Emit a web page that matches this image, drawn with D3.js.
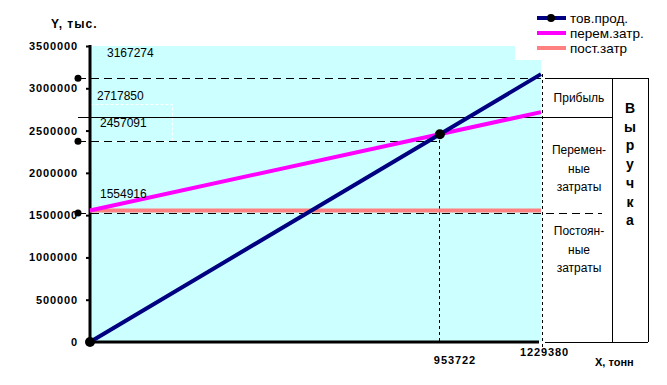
<!DOCTYPE html>
<html lang="ru">
<head>
<meta charset="UTF-8">
<script src="https://d3js.org/d3.v7.min.js"></script>
<title>Точка безубыточности</title>
<style>
  body { margin: 0; background: #fff; }
  text { font-family: "Liberation Sans", Arial, sans-serif; }
</style>
</head>
<body>
<script>
// values
let xValues = [0, 953722, 1229380];
let salesValues = [0, 2457091, 3167274];      // тов.прод.
let varCostX = [0, 1229380];
let varCostValues = [1554916, 2717850];       // перем.затр.
let fixedCostValues = [1554916, 1554916];     // пост.затр
let yTicks = [0, 500000, 1000000, 1500000, 2000000, 2500000, 3000000, 3500000];
let xTickLabels = ["953722", "1229380"];
let seriesNames = ["тов.прод.", "перем.затр.", "пост.затр"];
let valueLabels = ["3167274", "2717850", "2457091", "1554916"];
// guide lines as drawn (slightly off the exact values in the original)
let guideLevels = [3120000, 2660000, 2375000, 1525000];
let zoneLabels = [["Прибыль"], ["Перемен-", "ные", "затраты"], ["Постоян-", "ные", "затраты"]];
let revenueLabel = "Выручка";

let colors = ["#000080", "#ff00ff", "#ff8080"];

let svg = d3.select("body").append("svg")
    .attr("width", 667)
    .attr("height", 385);

let x = d3.scaleLinear().domain([0, 1229380]).range([90, 541]);
let y = d3.scaleLinear().domain([0, 3500000]).range([342, 46]);

// plot background
svg.append("rect")
    .attr("x", x(0)).attr("y", y(3500000))
    .attr("width", x(1229380) - x(0))
    .attr("height", y(0) - y(3500000))
    .attr("fill", "#ccffff");

// white dashed selection box around a label
svg.append("rect")
    .attr("x", 90.5).attr("y", 104.5)
    .attr("width", 82).attr("height", Math.round(y(guideLevels[2])) - 104)
    .attr("fill", "none")
    .attr("stroke", "#fff")
    .attr("stroke-dasharray", "3,2");

// y axis
let yAxis = d3.axisLeft(y).tickValues(yTicks).tickSize(4).tickPadding(8)
    .tickFormat(d3.format("d"));
let gy = svg.append("g").attr("transform", "translate(" + x(0) + ",0)").call(yAxis);
gy.select(".domain").remove();
gy.selectAll(".tick line").attr("stroke", "#000").attr("stroke-width", 2);
gy.selectAll(".tick text")
    .attr("font-family", "Liberation Sans, Arial, sans-serif")
    .attr("font-size", 11).attr("font-weight", "bold")
    .attr("letter-spacing", 0.9)
    .attr("fill", "#000");

svg.append("line")
    .attr("x1", x(0)).attr("x2", x(0))
    .attr("y1", y(3500000) - 1).attr("y2", y(0) + 3)
    .attr("stroke", "#000").attr("stroke-width", 3);
svg.append("line")
    .attr("x1", x(0)).attr("x2", x(1229380) - 2)
    .attr("y1", y(0)).attr("y2", y(0))
    .attr("stroke", "#000").attr("stroke-width", 3);

// guide lines
let gl = svg.append("g").attr("stroke", "#000").attr("stroke-width", 1)
    .attr("shape-rendering", "crispEdges");
gl.append("line").attr("x1", 78).attr("x2", x(1229380))
    .attr("y1", y(guideLevels[0])).attr("y2", y(guideLevels[0]))
    .attr("stroke-dasharray", "8,5");
gl.append("line").attr("x1", x(1229380) + 4).attr("x2", 648)
    .attr("y1", y(guideLevels[0])).attr("y2", y(guideLevels[0]));
gl.append("line").attr("x1", 78).attr("x2", 612)
    .attr("y1", y(guideLevels[1])).attr("y2", y(guideLevels[1]));
gl.append("line").attr("x1", 78).attr("x2", x(953722))
    .attr("y1", y(guideLevels[2])).attr("y2", y(guideLevels[2]))
    .attr("stroke-dasharray", "8,5");
gl.append("line").attr("x1", x(953722)).attr("x2", x(953722))
    .attr("y1", y(salesValues[1])).attr("y2", y(0))
    .attr("stroke-dasharray", "3,3");
gl.append("line").attr("x1", x(1229380) + 1).attr("x2", x(1229380) + 1)
    .attr("y1", y(salesValues[2])).attr("y2", y(0) + 8)
    .attr("stroke-dasharray", "3,3");
// revenue box
gl.append("line").attr("x1", 612).attr("x2", 612)
    .attr("y1", y(guideLevels[0])).attr("y2", y(0));
gl.append("line").attr("x1", 648).attr("x2", 648)
    .attr("y1", y(guideLevels[0])).attr("y2", y(0));
gl.append("line").attr("x1", x(1229380) + 4).attr("x2", 648)
    .attr("y1", y(0)).attr("y2", y(0));

// series lines
let line = d3.line().x(d => x(d[0])).y(d => y(d[1]));

svg.append("path")
    .datum(varCostX.map((v, i) => [v, fixedCostValues[i]]))
    .attr("d", line).attr("fill", "none")
    .attr("stroke", colors[2]).attr("stroke-width", 4);

// dashed guide over the fixed cost line
svg.append("line").attr("x1", 78).attr("x2", 602)
    .attr("y1", y(guideLevels[3])).attr("y2", y(guideLevels[3]))
    .attr("stroke", "#000").attr("shape-rendering", "crispEdges")
    .attr("stroke-dasharray", "8,5");

svg.append("path")
    .datum(varCostX.map((v, i) => [v, varCostValues[i]]))
    .attr("d", line).attr("fill", "none")
    .attr("stroke", colors[1]).attr("stroke-width", 4);

svg.append("path")
    .datum(xValues.map((v, i) => [v, salesValues[i]]))
    .attr("d", line).attr("fill", "none")
    .attr("stroke", colors[0]).attr("stroke-width", 4);

// markers
svg.selectAll(".mk")
    .data(xValues.slice(0, 2).map((v, i) => [v, salesValues[i]]))
    .enter().append("circle")
    .attr("cx", d => x(d[0])).attr("cy", d => y(d[1]))
    .attr("r", 5).attr("fill", "#000");

svg.selectAll(".gd")
    .data([guideLevels[0], guideLevels[2], guideLevels[3]])
    .enter().append("circle")
    .attr("cx", 78).attr("cy", d => y(d))
    .attr("r", 3.5).attr("fill", "#000");

// value labels
let labelPos = [[107, 57], [97, 100], [100, 127], [100, 198]];
svg.selectAll(".vl")
    .data(valueLabels)
    .enter().append("text")
    .attr("x", (d, i) => labelPos[i][0])
    .attr("y", (d, i) => labelPos[i][1])
    .attr("font-size", 12)
    .attr("fill", "#000")
    .text(d => d);

// x tick labels
let xl = svg.append("g")
    .attr("font-size", 11).attr("font-weight", "bold")
    .attr("letter-spacing", 0.9);
xl.append("text").attr("x", x(953722) - 6).attr("y", 364).text(xTickLabels[0]);
xl.append("text").attr("x", x(1229380) - 21).attr("y", 356).text(xTickLabels[1]);

// axis titles
svg.append("text").attr("x", 51).attr("y", 28)
    .attr("font-size", 12).attr("font-weight", "bold")
    .attr("letter-spacing", 1)
    .text("Y, тыс.");
svg.append("text").attr("x", 595).attr("y", 366)
    .attr("font-size", 11).attr("font-weight", "bold")
    .text("X, тонн");

// zone labels
let zoneY = [102, 154, 235];
zoneLabels.forEach((lines, i) => {
    lines.forEach((t, j) => {
        svg.append("text")
            .attr("x", 579).attr("y", zoneY[i] + j * 18.5)
            .attr("text-anchor", "middle")
            .attr("font-size", 12)
            .text(t);
    });
});

// vertical "Выручка"
svg.selectAll(".rv")
    .data(revenueLabel.split(""))
    .enter().append("text")
    .attr("x", 630)
    .attr("y", (d, i) => 113 + i * 18.7)
    .attr("text-anchor", "middle")
    .attr("font-size", 14).attr("font-weight", "bold")
    .text(d => d);

// legend
let legend = svg.append("g");
legend.append("rect")
    .attr("x", 515).attr("y", 0).attr("width", 152).attr("height", 60)
    .attr("fill", "#fff");
seriesNames.forEach((name, i) => {
    let ly = 18 + i * 15;
    legend.append("line")
        .attr("x1", 537).attr("x2", 566)
        .attr("y1", ly).attr("y2", ly)
        .attr("stroke", colors[i]).attr("stroke-width", 4);
    if (i === 0) {
        legend.append("circle").attr("cx", 551).attr("cy", ly).attr("r", 4).attr("fill", "#000");
    }
    legend.append("text")
        .attr("x", 570).attr("y", ly + 5)
        .attr("font-size", 13.5)
        .text(name);
});
</script>
</body>
</html>
